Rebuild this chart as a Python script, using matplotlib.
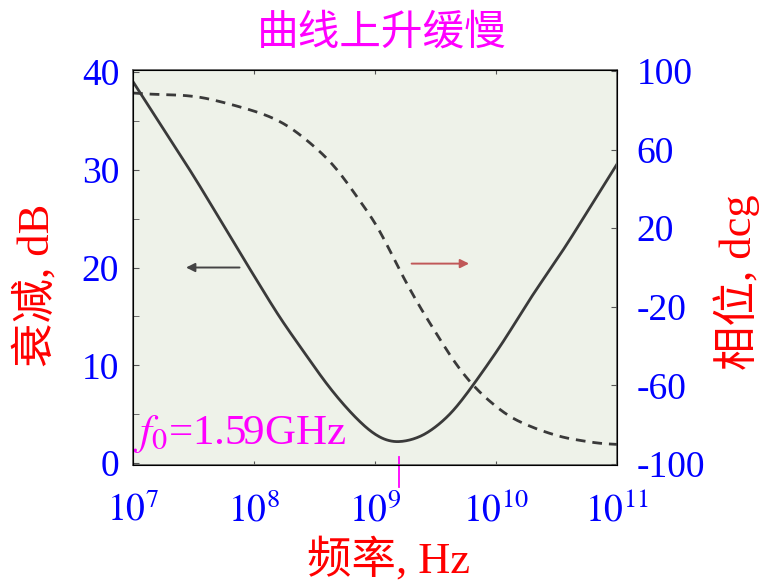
import numpy as np
import matplotlib
matplotlib.use("Agg")
import matplotlib.pyplot as plt

plt.rcParams['font.family'] = ['Liberation Serif', 'Noto Sans CJK SC']
plt.rcParams['mathtext.fontset'] = 'stix'
plt.rcParams['axes.unicode_minus'] = False

# attenuation curve (dB, left axis)
att_freq = [1.0e7, 3.2e7, 8.1e7, 1.64e8, 2.57e8, 4.0e8, 6.2e8, 9.1e8, 1.1e9,
            1.5e9, 2.5e9, 4.2e9, 6.5e9, 1.15e10, 1.9e10, 3.6e10, 1.0e11]
att_db = [39.0, 29.3, 21.0, 14.8, 11.4, 8.0, 5.2, 3.2, 2.5,
          2.0, 2.7, 4.9, 8.0, 12.4, 16.8, 21.8, 30.6]

# phase curve (deg, right axis)
ph_freq = [1.0e7, 1.47e7, 2.44e7, 3.58e7, 5.07e7, 7.2e7, 1.05e8, 1.54e8, 2.11e8,
           2.9e8, 3.99e8, 5.14e8, 7.5e8, 1.03e9, 1.42e9, 1.71e9, 2.36e9, 3.24e9,
           4.44e9, 6.1e9, 8.4e9, 1.31e10, 2.17e10, 3.6e10, 7.2e10, 1.0e11]
ph_deg = [88.8, 88.1, 87.8, 86.8, 84.7, 82.2, 79.3, 75.4, 70.3,
          63.5, 55.9, 48.2, 33.8, 22.0, 5.0, -5.2, -20.5, -34.0,
          -47.6, -58.6, -67.1, -76.4, -82.3, -86.6, -89.6, -90.0]

f0 = 1.59e9
left_ticks = [0, 10, 20, 30, 40]
right_ticks = [-100, -60, -20, 20, 60, 100]
x_ticks = [1e7, 1e8, 1e9, 1e10, 1e11]
x_labels = [r'$10^{7}$', r'$10^{8}$', r'$10^{9}$', r'$10^{10}$', r'$10^{11}$']

blue = '#0000ff'
red = '#ff0000'
magenta = '#ff00ff'
curve = '#3a3a3a'


def smooth_log(freq, vals, n=400, win=13):
    lx = np.log10(freq)
    xs = np.linspace(lx[0], lx[-1], n)
    ys = np.interp(xs, lx, vals)
    k = np.ones(win) / win
    # two passes of a moving average, odd reflection keeps the end slopes
    for _ in range(2):
        ys = np.convolve(np.pad(ys, win // 2, mode='reflect', reflect_type='odd'), k, mode='valid')
    return 10 ** xs, ys


fig = plt.figure(figsize=(7.61, 5.82), dpi=100)
ax = fig.add_axes([0.1748, 0.2010, 0.6362, 0.6787])
ax.set_facecolor('#eef2e9')

x1, y1 = smooth_log(att_freq, att_db, win=17)
ax.plot(x1, y1, color=curve, lw=2.0)

ax.set_xscale('log')
ax.set_xlim(1e7, 1e11)
ax.set_ylim(-0.2, 40.2)
ax.set_yticks(left_ticks)
ax.set_yticks([5, 15, 25, 35], minor=True)
ax.set_xticks(x_ticks)
ax.set_xticklabels(x_labels)
ax.tick_params(axis='y', which='both', direction='in', colors='#555555',
               labelcolor=blue, labelsize=27, pad=10, length=4)
ax.tick_params(axis='x', which='both', direction='in', colors='#555555',
               labelcolor=blue, labelsize=27, pad=20, length=3, top=True)
for lab in ax.get_xticklabels() + ax.get_yticklabels():
    lab.set_fontfamily('Liberation Serif')
for s in ax.spines.values():
    s.set_color('#666666')
    s.set_linewidth(1.3)

ax2 = ax.twinx()
x2, y2 = smooth_log(ph_freq, ph_deg, win=15)
ax2.plot(x2, y2, color=curve, lw=2.0, dashes=(3.5, 2.5))
ax2.set_ylim(-100.5, 100.5)
ax2.set_yticks(right_ticks)
ax2.tick_params(axis='y', direction='in', colors='#555555', labelcolor=blue,
                labelsize=27, pad=14, length=4)
for lab in ax2.get_yticklabels():
    lab.set_fontfamily('Liberation Serif')

# arrows
ax.annotate('', xy=(2.6e7, 20), xytext=(8.0e7, 20),
            arrowprops=dict(arrowstyle='-|>', color='#444444', lw=1.4, mutation_scale=13))
ax.annotate('', xy=(6.3e9, 20.4), xytext=(1.9e9, 20.4),
            arrowprops=dict(arrowstyle='-|>', color='#c05858', lw=1.4, mutation_scale=13))

# f0 marker
ax.axvline(f0, ymin=-0.055, ymax=0.02, color=magenta, lw=1.3, clip_on=False)
ax.text(1.0e7, 3.0, r'$f_0$=1.59GHz', color=magenta, fontsize=31,
        family='Liberation Serif', ha='left', va='center')

fig.text(0.502, 0.943, '曲线上升缓慢', color=magenta, fontsize=30,
         family=['Noto Sans CJK SC'], ha='center', va='center')
fig.text(0.047, 0.51, '衰减, dB', color=red, fontsize=32, rotation=90,
         ha='center', va='center')
fig.text(0.968, 0.515, '相位, dcg', color=red, fontsize=32, rotation=90,
         ha='center', va='center')
fig.text(0.51, 0.038, '频率, Hz', color=red, fontsize=32,
         ha='center', va='center')

fig.savefig('out.png', dpi=100)
